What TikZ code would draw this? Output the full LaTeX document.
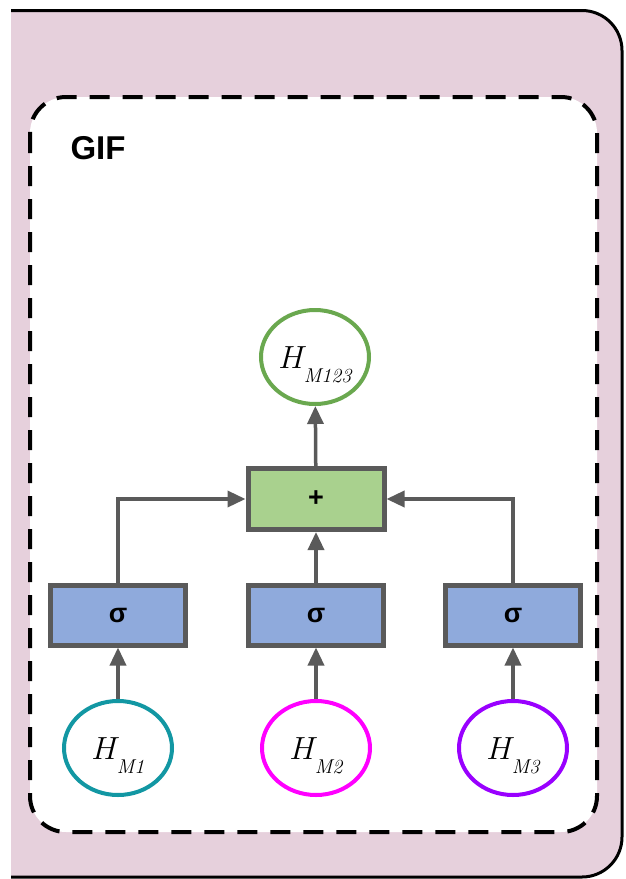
\RequirePackage{fix-cm}
\documentclass[tikz,border=0pt]{standalone}
\usepackage{fontspec}
\setsansfont{Liberation Sans}
\usetikzlibrary{shapes.geometric,arrows.meta}

\definecolor{panelpink}{HTML}{E6D0DC}
\definecolor{boxline}{HTML}{5A5A5A}
\definecolor{sumfill}{HTML}{A9D18E}
\definecolor{actfill}{HTML}{8FAADC}
\definecolor{outgreen}{HTML}{6AA84F}
\definecolor{inteal}{HTML}{1297A3}
\definecolor{inmagenta}{HTML}{FF00FF}
\definecolor{inpurple}{HTML}{9900FF}

\tikzset{
  opbox/.style={draw=boxline, line width=5pt, minimum width=135pt,
    minimum height=60pt, inner sep=0pt,
    font=\sffamily\bfseries\fontsize{27}{29}\selectfont},
  feat/.style={ellipse, draw, line width=4pt, fill=white,
    minimum width=108pt, minimum height=94pt, inner sep=0pt,
    font=\fontsize{32}{36}\selectfont},
  flow/.style={draw=boxline, line width=3.5pt,
    -{Triangle[length=18pt,width=16pt]}},
}

% italic H with a lowered italic subscript, set on a line a little below centre
\newcommand{\featlabel}[1]{\raisebox{-11pt}[0pt][0pt]{$H$\kern-3pt\raisebox{-14pt}{\fontsize{20}{20}\selectfont\itshape #1}}}

\begin{document}
\begin{tikzpicture}[x=1pt,y=-1pt]
  \useasboundingbox[fill=white] (0,0) rectangle (626,879);

  % outer panel
  \begin{scope}
    \clip (11,0) rectangle (626,879);
    \draw[fill=panelpink, line width=3pt, rounded corners=40pt]
      (-60,10.5) rectangle (622,877);
  \end{scope}

  % dashed module frame
  \draw[fill=white, line width=4pt, dash pattern=on 20pt off 13pt,
    rounded corners=36pt] (30,97) rectangle (597,832);

  \node[anchor=base west, font=\sffamily\bfseries\fontsize{33}{36}\selectfont]
    (title) at (67,159) {GIF};

  % feature inputs
  \node[feat, draw=inteal]    (h1) at (118,748) {\featlabel{M1}};
  \node[feat, draw=inmagenta] (h2) at (316,748) {\featlabel{M2}};
  \node[feat, draw=inpurple]  (h3) at (513,748) {\featlabel{M3}};

  % gates
  \node[opbox, fill=actfill] (s1) at (118,615) {σ};
  \node[opbox, fill=actfill] (s2) at (316,615) {σ};
  \node[opbox, fill=actfill] (s3) at (513,615) {σ};

  % fusion
  \node[opbox, fill=sumfill, minimum width=136pt, minimum height=61pt]
    (sum) at (316,499) {+};

  % fused output
  \node[feat, draw=outgreen] (out) at (315,357) {\featlabel{M123}};

  % connections
  \draw[flow] (h1) -- (s1);
  \draw[flow] (h2) -- (s2);
  \draw[flow] (h3) -- (s3);
  \draw[flow] (s1.north) |- (sum.west);
  \draw[flow] (s2) -- (sum);
  \draw[flow] (s3.north) |- (sum.east);
  \draw[flow] (sum) -- (out);
\end{tikzpicture}
\end{document}
